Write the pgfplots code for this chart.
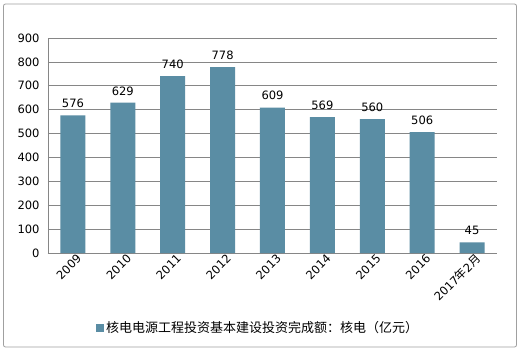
\documentclass[border=0pt]{standalone}
\usepackage{pgfplots}
\pgfplotsset{compat=1.18}
\usepackage{fontspec}
\setmainfont{DejaVu Sans}
\newfontfamily\cjk{Noto Sans CJK SC}
\definecolor{barc}{RGB}{90,141,164}
\definecolor{gridc}{RGB}{134,134,134}
\definecolor{framec}{RGB}{160,160,160}
\begin{document}
\begin{tikzpicture}
\fill[white] (0,0) rectangle (522bp,354bp);
\draw[framec, rounded corners=2bp, line width=0.8bp] (3.5bp,7bp) rectangle (516.5bp,350bp);
\begin{axis}[
  at={(48bp,101bp)}, anchor=south west,
  scale only axis, width=449bp, height=215bp,
  xmin=-0.5, xmax=8.5, ymin=0, ymax=900,
  ytick={0,100,...,900},
  xtick={0,...,8},
  xticklabels={2009,2010,2011,2012,2013,2014,2015,2016,{2017{\cjk 年}2{\cjk 月}}},
  major tick length=0pt,
  axis lines*=left,
  axis line style={gridc, line width=0.6bp},
  ymajorgrids, grid style={gridc, line width=0.6bp},
  /pgf/number format/assume math mode=true,
  tick label style={font=\fontsize{11.5bp}{13bp}\selectfont, black},
  yticklabel style={xshift=-5bp},
  xticklabel style={rotate=45, anchor=east, xshift=2bp, yshift=-7bp, inner sep=0pt},
  legend style={at={(0.468,-0.349)}, anchor=center, draw=none, fill=none,
    font=\fontsize{13bp}{15bp}\selectfont\cjk, inner sep=0pt},
  legend image code/.code={\fill[barc] (0bp,-4bp) rectangle (8bp,4bp);},
  legend cell align=left,
  clip=false,
]
\addplot[ybar, bar width=25bp, fill=barc, draw=none,
  nodes near coords, nodes near coords style={font=\fontsize{11.5bp}{13bp}\selectfont, black, yshift=4bp}]
  coordinates {(0,576) (1,629) (2,740) (3,778) (4,609) (5,569) (6,560) (7,506) (8,45)};
\addlegendentry{核电电源工程投资基本建设投资完成额：核电（亿元）}
\end{axis}
\end{tikzpicture}
\end{document}
